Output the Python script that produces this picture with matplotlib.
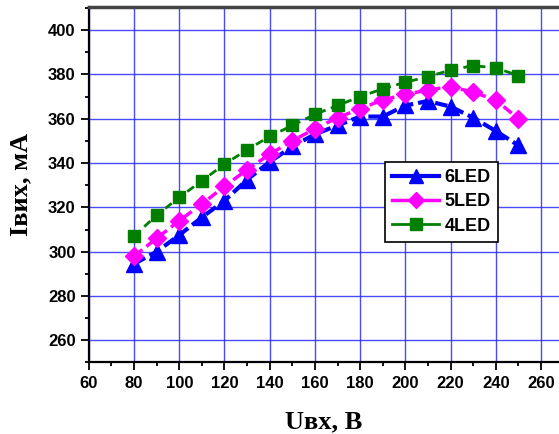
import numpy as np
import matplotlib.pyplot as plt
from matplotlib.ticker import MultipleLocator
from matplotlib.lines import Line2D

u_in = [80, 90, 100, 110, 120, 130, 140, 150, 160, 170, 180, 190, 200, 210, 220, 230, 240, 250]
i_6led = [294.5, 300, 307.5, 315.5, 323, 332.5, 340.5, 347.5, 353, 357, 361, 361, 366, 368, 365.5, 360.5, 354.5, 348]
i_5led = [298, 306, 314, 321.5, 329.5, 337, 344, 350, 355.5, 360.5, 364.5, 368.5, 371, 373, 374.5, 372, 368.5, 360]
i_4led = [307, 316.5, 324.5, 332, 339.5, 346, 352, 357, 362, 366, 370, 373.5, 376.5, 379, 382, 384, 383, 379.5]

plt.rcParams['font.family'] = ['Liberation Sans', 'DejaVu Sans']
plt.rcParams['font.weight'] = 'bold'

fig = plt.figure(figsize=(5.59, 4.34), dpi=100)
ax = fig.add_axes([0.159, 0.165, 0.841, 0.819])
ax.set_xlim(60, 268)
ax.set_ylim(250, 410.5)

ax.xaxis.set_major_locator(MultipleLocator(20))
ax.xaxis.set_minor_locator(MultipleLocator(10))
ax.yaxis.set_major_locator(MultipleLocator(20))
ax.yaxis.set_minor_locator(MultipleLocator(10))
ax.grid(True, which="major", color="#2a2aff", linewidth=1.0, alpha=0.85)
ax.set_axisbelow(True)

ax.plot(u_in, i_6led, "--", color="blue", lw=3, dashes=(3, 1.2), marker="^", ms=11, label="6LED")
ax.plot(u_in, i_5led, "--", color="#ff00ff", lw=2.5, dashes=(3, 1.5), marker="D", ms=9, label="5LED")
ax.plot(u_in, i_4led, "--", color="#007f00", lw=2, dashes=(3, 2), marker="s", ms=9, label="4LED")

ax.tick_params(which="major", direction="out", length=6, width=1.3, labelsize=12)
ax.tick_params(which="minor", direction="out", length=3, width=1.3)
for s in ["left", "bottom"]:
    ax.spines[s].set_linewidth(1.6)
ax.spines["top"].set_linewidth(2.5)
ax.spines["top"].set_color("#444444")
ax.spines["right"].set_visible(False)

ax.set_xticks([60, 80, 100, 120, 140, 160, 180, 200, 220, 240, 260])
ax.set_yticks([260, 280, 300, 320, 340, 360, 380, 400])

ax.set_xlabel("Uвх, В", family="Liberation Serif", fontsize=19, fontweight="bold", labelpad=14)
ax.set_ylabel("Iвих, мА", family="Liberation Serif", fontsize=19, fontweight="bold", labelpad=11)

handles = [
    Line2D([], [], color="blue", lw=3, marker="^", ms=10),
    Line2D([], [], color="#ff00ff", lw=2.5, marker="D", ms=8),
    Line2D([], [], color="#007f00", lw=2, marker="s", ms=8),
]
leg = ax.legend(handles, ["6LED", "5LED", "4LED"], loc="upper left",
                bbox_to_anchor=(0.63, 0.564), borderaxespad=0, fontsize=13, frameon=True,
                fancybox=False, edgecolor="black", framealpha=1,
                handlelength=2.6, handletextpad=0.3, borderpad=0.4, labelspacing=0.4)
leg.get_frame().set_linewidth(1.2)

plt.savefig("out.png", dpi=100)
